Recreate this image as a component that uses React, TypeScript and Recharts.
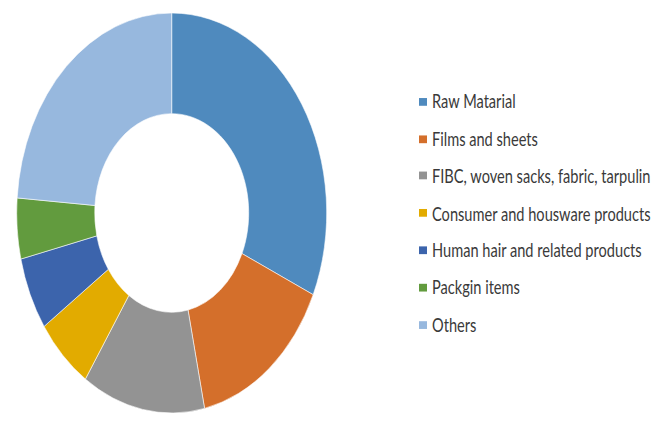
import React from 'react';
import { PieChart, Pie, Cell, Legend } from 'recharts';

const categories = [
  'Raw Matarial',
  'Films and sheets',
  'FIBC, woven sacks, fabric, tarpulin',
  'Consumer and housware products',
  'Human hair and related products',
  'Packgin items',
  'Others',
];
const shares = [31.7, 14.9, 12.8, 6.0, 5.9, 4.9, 23.8];
const colors = ['#4F8ABE', '#D46F2B', '#939393', '#E2AB00', '#3C64AC', '#629B3E', '#97B8DE'];

const data = categories.map((name, i) => ({ name, value: shares[i] }));

const SCALE_Y = 1.29;

const renderLegend = () => {
  return (
    <ul style={{ listStyle: 'none', margin: 0, padding: 0 }}>
      {categories.map((name, i) => (
        <li
          key={name}
          style={{ height: 28.8, display: 'flex', alignItems: 'center', whiteSpace: 'nowrap' }}
        >
          <span
            style={{
              display: 'inline-block',
              width: 8,
              height: 6,
              background: colors[i],
              marginRight: 5,
            }}
          />
          <span style={{ color: '#3a3a3a' }}>{name}</span>
        </li>
      ))}
    </ul>
  );
};

export default function App() {
  return (
    <div
      style={{
        position: 'absolute',
        left: 0,
        top: 0,
        width: 660,
        height: 332,
        transform: `scaleY(${SCALE_Y})`,
        transformOrigin: '0 0',
        fontFamily: 'Lato, sans-serif',
        fontSize: 14.6,
        background: '#fff',
      }}
    >
      <PieChart width={660} height={332} margin={{ top: 0, right: 0, bottom: 0, left: 0 }}>
        <Pie
          data={data}
          dataKey="value"
          nameKey="name"
          cx={171.7}
          cy={165.1}
          outerRadius={155}
          innerRadius={77}
          startAngle={90}
          endAngle={-270}
          stroke="#ffffff"
          strokeWidth={0.5}
          isAnimationActive={false}
        >
          {data.map((d, i) => (
            <Cell key={d.name} fill={colors[i]} />
          ))}
        </Pie>
        <Legend
          layout="vertical"
          content={renderLegend}
          wrapperStyle={{ position: 'absolute', left: 419, top: 64.4, width: 240 }}
        />
      </PieChart>
    </div>
  );
}
